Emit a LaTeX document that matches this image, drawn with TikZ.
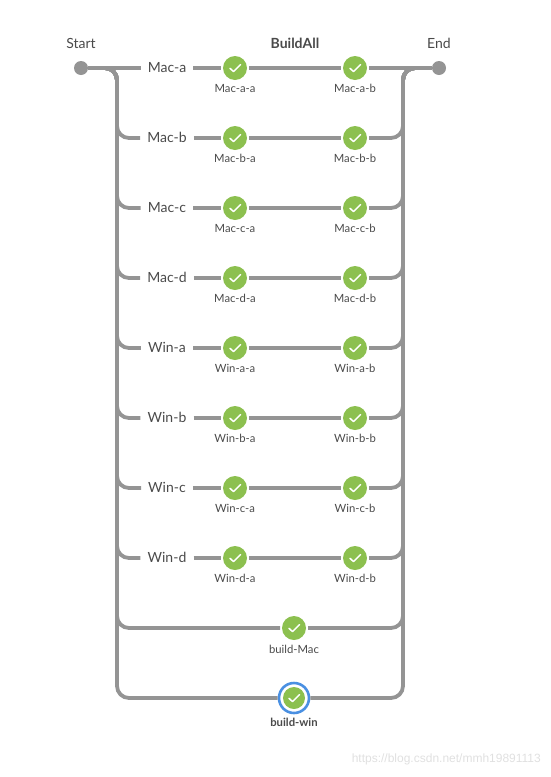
\documentclass[tikz,border=0pt]{standalone}
\usepackage{fontspec}
\setmainfont{Lato}
\newfontfamily\wmfont{Liberation Sans}
\usetikzlibrary{calc}
\definecolor{wire}{HTML}{949494}
\definecolor{okgreen}{HTML}{8CC04F}
\definecolor{ringblue}{HTML}{4A90E2}
\definecolor{inktext}{HTML}{4A4A4A}
\tikzset{
  wirepath/.style={draw=wire,line width=3.8pt,rounded corners=12pt},
  endpoint/.style={circle,fill=wire,minimum size=14pt,inner sep=0pt},
  okstage/.style={circle,fill=okgreen,minimum size=24pt,inner sep=0pt,outer sep=2pt},
  stagelabel/.style={font=\fontsize{11.3}{13}\selectfont,text=inktext,inner sep=0pt},
  toplabel/.style={font=\fontsize{14}{16}\selectfont,text=inktext,inner sep=0pt},
  branchlabel/.style={font=\fontsize{14}{16}\selectfont,text=inktext,inner sep=7pt},
  tickmark/.style={draw=white,line width=1.5pt,line cap=round,line join=round}
}
\newcommand{\tick}[1]{\draw[tickmark] ($(#1)+(-5,0.3)$) -- ($(#1)+(-1.5,3.6)$) -- ($(#1)+(5.5,-3.4)$);}
\begin{document}
\begin{tikzpicture}[x=1pt,y=-1pt]
\useasboundingbox (0,0) rectangle (550,777);
\node[endpoint] (start) at (81,68) {};
\node[endpoint] (end) at (439,68) {};
\node[toplabel] (startlabel) at (81,43) {Start};
\node[toplabel] (endlabel) at (439,43) {End};
\node[toplabel,font=\fontsize{14}{16}\selectfont\bfseries] (title) at (295,43) {BuildAll};
\coordinate (lt) at (117,68);
\coordinate (rt) at (403,68);
\foreach \nm/\i in {Mac-a/0,Mac-b/1,Mac-c/2,Mac-d/3,Win-a/4,Win-b/5,Win-c/6,Win-d/7}{
  \pgfmathsetmacro{\yy}{68+70*\i}
  \node[branchlabel] (\nm) at (167,\yy-0.5) {\nm};
  \coordinate (\nm-w) at (\nm.west|-0,\yy);
  \coordinate (\nm-e) at (\nm.east|-0,\yy);
  \node[okstage] (\nm-a) at (235,\yy) {};
  \node[okstage] (\nm-b) at (355,\yy) {};
  \node[stagelabel] (\nm-a-label) at (235,\yy+20.5) {\nm-a};
  \node[stagelabel] (\nm-b-label) at (355,\yy+20.5) {\nm-b};
  \draw[wirepath] (\nm-e) -- (\nm-a);
  \draw[wirepath] (\nm-a) -- (\nm-b);
  \ifnum\i=0
    \draw[wirepath] (start) -- (\nm-w);
    \draw[wirepath] (\nm-b) -- (end);
  \else
    \draw[wirepath] (start) -- (lt) |- (\nm-w);
    \draw[wirepath] (\nm-b) -| (rt) -- (end);
  \fi
  \tick{\nm-a}
  \tick{\nm-b}
}
\node[okstage] (bmac) at (294,628) {};
\node[stagelabel] (bmaclabel) at (294,649) {build-Mac};
\node[circle,draw=ringblue,line width=2.6pt,fill=white,minimum size=30pt,inner sep=0pt,outer sep=1.3pt] (bwin) at (294,698) {};
\node[circle,fill=okgreen,minimum size=22pt,inner sep=0pt] (bwincore) at (bwin) {};
\node[stagelabel,font=\fontsize{11.3}{13}\selectfont\bfseries] (bwinlabel) at (294,722) {build-win};
\draw[wirepath] (start) -- (lt) |- (bmac);
\draw[wirepath] (bmac) -| (rt) -- (end);
\draw[wirepath] (start) -- (lt) |- (bwin);
\draw[wirepath] (bwin) -| (rt) -- (end);
\tick{bmac}
\tick{bwincore}
\node[font=\wmfont\fontsize{12}{14}\selectfont,text=black!12,inner sep=0pt,anchor=east] (wm) at (541,759) {https://blog.csdn.net/mmh19891113};
\end{tikzpicture}
\end{document}
